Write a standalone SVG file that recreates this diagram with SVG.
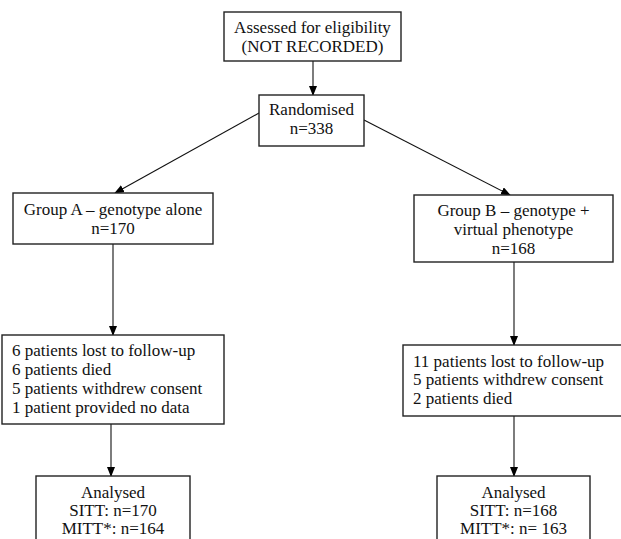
<svg xmlns="http://www.w3.org/2000/svg" width="621" height="539" viewBox="0 0 621 539">
<style>
.box{fill:#fff;stroke:#222;stroke-width:1.4}
.t{font-family:'Liberation Serif','DejaVu Serif','Times New Roman',serif;font-size:17px;fill:#111}
.c{text-anchor:middle}
.ln{stroke:#111;stroke-width:1.1;fill:none}
</style>
<defs>
<marker id="ah" markerWidth="10" markerHeight="10" refX="9" refY="4" orient="auto" markerUnits="userSpaceOnUse">
<path d="M0,0 L10,4 L0,8 Z" fill="#000"/>
</marker>
</defs>
<rect width="621" height="539" fill="#fff"/>
<g id="connectors">
<line class="ln" x1="313" y1="61" x2="313" y2="95" marker-end="url(#ah)"/>
<line class="ln" x1="259" y1="113" x2="115" y2="193" marker-end="url(#ah)"/>
<line class="ln" x1="364" y1="120" x2="510" y2="195" marker-end="url(#ah)"/>
<line class="ln" x1="113" y1="244" x2="113" y2="335" marker-end="url(#ah)"/>
<line class="ln" x1="514" y1="262" x2="514" y2="345" marker-end="url(#ah)"/>
<line class="ln" x1="111" y1="424" x2="111" y2="476" marker-end="url(#ah)"/>
<line class="ln" x1="514" y1="416" x2="514" y2="476" marker-end="url(#ah)"/>
</g>
<g id="assessed">
<rect class="box" x="224" y="12" width="177" height="49"/>
<text class="t c" x="312.5" y="33" font-family="Liberation Serif, serif">Assessed for eligibility</text>
<text class="t c" x="312.5" y="52" font-family="Liberation Serif, serif">(NOT RECORDED)</text>
</g>
<g id="randomised">
<rect class="box" x="259" y="95" width="105" height="51"/>
<text class="t c" x="311.5" y="115" font-family="Liberation Serif, serif">Randomised</text>
<text class="t c" x="311.5" y="134" font-family="Liberation Serif, serif">n=338</text>
</g>
<g id="groupA">
<rect class="box" x="13" y="193" width="200" height="51"/>
<text class="t c" x="113" y="215" font-family="Liberation Serif, serif">Group A – genotype alone</text>
<text class="t c" x="113" y="234" font-family="Liberation Serif, serif">n=170</text>
</g>
<g id="groupB">
<rect class="box" x="414" y="195" width="199" height="67"/>
<text class="t c" x="513.5" y="216" font-family="Liberation Serif, serif">Group B – genotype +</text>
<text class="t c" x="513.5" y="235" font-family="Liberation Serif, serif">virtual phenotype</text>
<text class="t c" x="513.5" y="254" font-family="Liberation Serif, serif">n=168</text>
</g>
<g id="lossA">
<rect class="box" x="2" y="335" width="222" height="89"/>
<text class="t" x="12" y="356" font-family="Liberation Serif, serif">6 patients lost to follow-up</text>
<text class="t" x="12" y="375" font-family="Liberation Serif, serif">6 patients died</text>
<text class="t" x="12" y="394" font-family="Liberation Serif, serif">5 patients withdrew consent</text>
<text class="t" x="12" y="413" font-family="Liberation Serif, serif">1 patient provided no data</text>
</g>
<g id="lossB">
<rect class="box" x="403" y="345" width="222" height="71"/>
<text class="t" x="413" y="367" font-family="Liberation Serif, serif">11 patients lost to follow-up</text>
<text class="t" x="413" y="385" font-family="Liberation Serif, serif">5 patients withdrew consent</text>
<text class="t" x="413" y="404" font-family="Liberation Serif, serif">2 patients died</text>
</g>
<g id="analysedA">
<rect class="box" x="36" y="476" width="154" height="70"/>
<text class="t c" x="113" y="498" font-family="Liberation Serif, serif">Analysed</text>
<text class="t c" x="113" y="516" font-family="Liberation Serif, serif">SITT: n=170</text>
<text class="t c" x="113" y="534" font-family="Liberation Serif, serif">MITT*: n=164</text>
</g>
<g id="analysedB">
<rect class="box" x="437" y="476" width="153" height="70"/>
<text class="t c" x="513.5" y="498" font-family="Liberation Serif, serif">Analysed</text>
<text class="t c" x="513.5" y="516" font-family="Liberation Serif, serif">SITT: n=168</text>
<text class="t c" x="513.5" y="534" font-family="Liberation Serif, serif">MITT*: n= 163</text>
</g>
</svg>
